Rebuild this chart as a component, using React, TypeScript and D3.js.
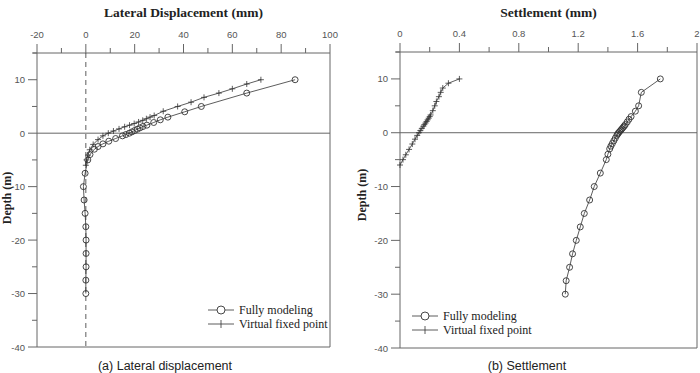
import React from "react";
import * as d3 from "d3";

// ---------- data ----------
const depthFull = [10, 7.5, 5, 4, 3, 2.5, 2, 1.5, 1.25, 1, 0.75, 0.5, 0.25, 0, -0.25, -0.5, -1, -1.5, -2, -2.5, -3, -4, -5, -7.5, -10, -12.5, -15, -17.5, -20, -22.5, -25, -27.5, -30];
const lateralFull = [85.7, 65.9, 47.3, 40.5, 33.6, 30.5, 27.8, 25.0, 23.4, 22.2, 21.1, 20.0, 18.9, 17.8, 16.4, 15.0, 12.2, 9.4, 7.0, 5.0, 3.5, 1.7, 0.8, -0.3, -1.0, -0.7, -0.3, 0.0, 0.1, 0.1, 0.1, 0.0, 0.0];
const settleFull = [1.753, 1.625, 1.607, 1.585, 1.556, 1.542, 1.53, 1.517, 1.51, 1.503, 1.495, 1.488, 1.48, 1.472, 1.466, 1.46, 1.45, 1.44, 1.43, 1.42, 1.412, 1.4, 1.389, 1.349, 1.308, 1.277, 1.241, 1.214, 1.187, 1.162, 1.142, 1.119, 1.113];

const depthVirtual = [10, 9.2, 8.3, 7.5, 6.7, 5.8, 5, 4.1, 3.3, 3.0, 2.7, 2.4, 2.1, 1.8, 1.5, 1.2, 0.8, 0.4, 0, -0.5, -1.2, -2.1, -3.1, -4.1, -5, -6];
const lateralVirtual = [71.7, 65.9, 60.0, 54.5, 48.4, 43.1, 37.6, 31.7, 28.0, 26.3, 24.8, 23.3, 21.6, 19.8, 17.9, 15.9, 13.6, 11.3, 9.2, 7.0, 5.0, 3.0, 1.6, 0.9, 0.3, 0.0];
const settleVirtual = [0.4, 0.326, 0.288, 0.274, 0.262, 0.245, 0.234, 0.221, 0.206, 0.2, 0.193, 0.186, 0.179, 0.172, 0.164, 0.157, 0.147, 0.137, 0.128, 0.116, 0.101, 0.083, 0.061, 0.039, 0.02, 0.0];

const depthTicks = [10, 0, -10, -20, -30, -40];
const depthMinor = [15, 5, -5, -15, -25, -35];
const lateralTicks = [-20, 0, 20, 40, 60, 80, 100];
const lateralMinor = [-10, 10, 30, 50, 70, 90];
const settleTicks = [0, 0.4, 0.8, 1.2, 1.6, 2];
const settleMinor = [0.2, 0.6, 1.0, 1.4, 1.8];
const legendLabels = ["Fully modeling", "Virtual fixed point"];

const AXIS = "#666";
const INK = "#333";
const SANS = "'Liberation Sans', Arial, sans-serif";
const SERIF = "'Liberation Serif', 'Times New Roman', serif";

type PanelProps = {
  left: number; right: number; top: number; bottom: number;
  xDomain: [number, number]; xTicks: number[]; xMinor: number[];
  xFormat: (v: number) => string;
  title: string; caption: string; captionX: number;
  full: number[]; virt: number[];
  legendX: number; legendY: number;
  ylabelX: number; ylabelY: number;
  dashedZero?: boolean;
};

function Panel(p: PanelProps) {
  const x = d3.scaleLinear().domain(p.xDomain).range([p.left, p.right]);
  const y = d3.scaleLinear().domain([-40, 15]).range([p.bottom, p.top]);
  const line = d3.line<[number, number]>().x((d) => x(d[0])).y((d) => y(d[1]));
  const fullPts: [number, number][] = p.full.map((v, i) => [v, depthFull[i]]);
  const virtPts: [number, number][] = p.virt.map((v, i) => [v, depthVirtual[i]]);
  const cx = (p.left + p.right) / 2;
  return (
    <g>
      <text x={cx} y={17} textAnchor="middle" fontFamily={SERIF} fontWeight="bold" fontSize={13.5} fill="#222">{p.title}</text>
      {/* frame */}
      <line x1={p.left - 4} x2={p.right} y1={p.top} y2={p.top} stroke={AXIS} strokeWidth={1} />
      <line x1={p.left} x2={p.left} y1={p.top} y2={p.bottom} stroke={AXIS} strokeWidth={1} />
      <line x1={p.right} x2={p.right} y1={p.top} y2={p.bottom} stroke={AXIS} strokeWidth={1} />
      <line x1={p.left} x2={p.right} y1={p.bottom} y2={p.bottom} stroke={AXIS} strokeWidth={1} />
      <line x1={p.left} x2={p.right} y1={y(0)} y2={y(0)} stroke={AXIS} strokeWidth={1} />
      {p.dashedZero && (
        <line x1={x(0)} x2={x(0)} y1={p.top} y2={p.bottom} stroke={INK} strokeWidth={0.8} strokeDasharray="5,4" />
      )}
      {/* top axis ticks */}
      {p.xTicks.map((t) => (
        <g key={"xt" + t}>
          <line x1={x(t)} x2={x(t)} y1={p.top} y2={p.top - 9} stroke={AXIS} />
          <text x={x(t)} y={p.top - 15} textAnchor="middle" fontFamily={SANS} fontSize={9.5} fill="#555">{p.xFormat(t)}</text>
        </g>
      ))}
      {p.xMinor.map((t) => (
        <line key={"xm" + t} x1={x(t)} x2={x(t)} y1={p.top} y2={p.top - 5} stroke={AXIS} />
      ))}
      {/* left axis ticks */}
      {depthTicks.map((t) => (
        <g key={"yt" + t}>
          <line x1={p.left - 9} x2={p.left} y1={y(t)} y2={y(t)} stroke={AXIS} />
          <text x={p.left - 12} y={y(t) + 3.5} textAnchor="end" fontFamily={SANS} fontSize={9.5} fill="#555">{t}</text>
        </g>
      ))}
      {depthMinor.map((t) => (
        <line key={"ym" + t} x1={p.left - 5} x2={p.left} y1={y(t)} y2={y(t)} stroke={AXIS} />
      ))}
      <text transform={`translate(${p.ylabelX},${p.ylabelY}) rotate(-90)`} textAnchor="middle" fontFamily={SERIF} fontWeight="bold" fontSize={12} fill="#222">Depth (m)</text>
      {/* data */}
      <path d={line(virtPts) || ""} fill="none" stroke={INK} strokeWidth={0.8} />
      <path d={line(fullPts) || ""} fill="none" stroke={INK} strokeWidth={0.8} />
      {virtPts.map((d, i) => (
        <path key={"v" + i} d={`M${x(d[0]) - 3},${y(d[1])}h6M${x(d[0])},${y(d[1]) - 3}v6`} stroke={INK} strokeWidth={0.8} />
      ))}
      {fullPts.map((d, i) => (
        <circle key={"f" + i} cx={x(d[0])} cy={y(d[1])} r={3} fill="none" stroke={INK} strokeWidth={0.9} />
      ))}
      {/* legend */}
      <g>
        <line x1={p.legendX} x2={p.legendX + 26} y1={p.legendY} y2={p.legendY} stroke={INK} strokeWidth={0.8} />
        <circle cx={p.legendX + 13} cy={p.legendY} r={4} fill="white" stroke={INK} strokeWidth={0.9} />
        <text x={p.legendX + 31} y={p.legendY + 4} fontFamily={SERIF} fontSize={12} fill="#222">{legendLabels[0]}</text>
        <line x1={p.legendX} x2={p.legendX + 26} y1={p.legendY + 14} y2={p.legendY + 14} stroke={INK} strokeWidth={0.8} />
        <line x1={p.legendX + 13} x2={p.legendX + 13} y1={p.legendY + 10} y2={p.legendY + 18} stroke={INK} strokeWidth={0.8} />
        <text x={p.legendX + 31} y={p.legendY + 18} fontFamily={SERIF} fontSize={12} fill="#222">{legendLabels[1]}</text>
      </g>
      <text x={p.captionX} y={370} textAnchor="middle" fontFamily={SANS} fontSize={12.5} fill="#222">{p.caption}</text>
    </g>
  );
}

export default function App() {
  return (
    <svg width={700} height={373} style={{ position: "absolute", left: 0, top: 0, background: "white" }}>
      <rect width={700} height={373} fill="white" />
      <Panel
        left={37} right={330} top={53} bottom={347}
        xDomain={[-20, 100]} xTicks={lateralTicks} xMinor={lateralMinor}
        xFormat={(v) => String(v)}
        title="Lateral Displacement (mm)" caption="(a)  Lateral  displacement" captionX={165}
        full={lateralFull} virt={lateralVirtual}
        legendX={208} legendY={310}
        ylabelX={11} ylabelY={198}
        dashedZero
      />
      <Panel
        left={400} right={697} top={52} bottom={348}
        xDomain={[0, 2]} xTicks={settleTicks} xMinor={settleMinor}
        xFormat={(v) => String(v)}
        title="Settlement (mm)" caption="(b)  Settlement" captionX={527}
        full={settleFull} virt={settleVirtual}
        legendX={412} legendY={316}
        ylabelX={366} ylabelY={195}
      />
    </svg>
  );
}
